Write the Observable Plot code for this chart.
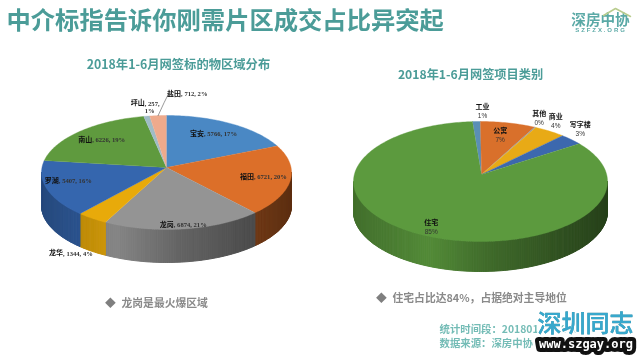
<!DOCTYPE html>
<html><head><meta charset="utf-8">
<style>html,body{margin:0;background:#fff}svg{display:block;filter:blur(.35px)}</style>
<script src="https://cdn.jsdelivr.net/npm/d3@7"></script>
<script src="https://cdn.jsdelivr.net/npm/@observablehq/plot@0.6"></script>
</head><body>
<script>
// --- data ---
const districts = ["宝安","福田","龙岗","龙华","罗湖","南山","坪山","盐田"];
const districtUnits = [5766,6721,6874,1344,5407,6226,257,712];
const districtPct = [17,20,21,4,16,19,1,2];
const districtColors = ["#4a88c4","#dc6f29","#949494","#e8aa0a","#3566ae","#5f9a3e","#9fbcc6","#eeaa8c"];
const types = ["工业","公寓","其他","商业","写字楼","住宅"];
const typePct = [1,7,0.2,4,3,85];
const typeLabels = ["1%","7%","0%","4%","3%","85%"];
const typeColors = ["#5a8fb5","#d9702b","#999999","#e8aa16","#3c68ae","#5c9a3e"];
const mainTitle = "中介标指告诉你刚需片区成交占比异突起";
const leftTitle = "2018年1-6月网签标的物区域分布";
const rightTitle = "2018年1-6月网签项目类别";
const leftNote = "龙岗是最火爆区域";
const rightNote = "住宅占比达84%，占据绝对主导地位";
const sourceLines = ["统计时间段：201801-201806","数据来源：深房中协"];

// --- layout ---
const CJK = "Noto Sans CJK SC";
const TEAL = "#4b9c98";
const leftPie = {cx:166,cy:172,ax:166,ay:167,rx:125,ry:57,depth:33,start:0};
const rightPie = {cx:480,cy:181,ax:481,ay:174,rx:127,ry:60,depth:30,start:-3.6};
// label placement: [fraction of radius, dx, dy]
const leftPlace = [[.75,-2,0],[.78,0,0],[.95,0,0],[1,-20,36],[.75,-9,-2],[.75,0,0],[1,-7,-12],[1,32,-21]];
const rightPlace = [[1,6,-10],[.7,0,-3],[1,4,-9],[1,6,-10],[1,9,-10],[.85,-6,0]];

const rim = (p,a,down=0)=>{const r=a*Math.PI/180;return [p.cx+p.rx*Math.sin(r),p.cy-p.ry*Math.cos(r)+down];};
const shade = d3.scaleLinear().domain([-1,-.4,.1,1]).range([.72,.9,.68,.42]);
const darken = (c,k)=>{const o=d3.rgb(c);return d3.rgb(o.r*k,o.g*k,o.b*k).formatHex();};

function buildPie(p,values,colors){
  const total=d3.sum(values); let a=p.start;
  const top=[],side=[],mids=[];
  values.forEach((v,i)=>{
    const a1=a+v/total*360; const id=i;
    top.push({id,x:p.ax,y:p.ay,c:colors[i]});
    for(let t=a;t<a1;t+=1){const [x,y]=rim(p,t);top.push({id,x,y,c:colors[i]});}
    const [xe,ye]=rim(p,a1);top.push({id,x:xe,y:ye,c:colors[i]});
    const mid=(a+a1)/2; mids.push(mid);
    const lo=Math.max(a,90),hi=Math.min(a1,270);
    for(let t=lo;t<hi;t+=1){
      const t2=Math.min(t+1,hi);
      const [x0,y0]=rim(p,t),[x1,y1]=rim(p,t2);
      const c=darken(colors[i],shade((x0-p.cx)/p.rx));
      const sid=i+"-"+t;
      side.push({id:sid,x:x0,y:y0,c},{id:sid,x:x1,y:y1,c},{id:sid,x:x1,y:y1+p.depth,c},{id:sid,x:x0,y:y0+p.depth,c},{id:sid,x:x0,y:y0,c});
    }
    a=a1;
  });
  return {top,side,mids};
}
const placeAt=(p,mid,[f,dx,dy])=>{const [x,y]=rim(p,mid);return [p.ax+f*(x-p.ax)+dx,p.ay+f*(y-p.ay)+dy];};

const L=buildPie(leftPie,districtUnits,districtColors);
const R=buildPie(rightPie,typePct,typeColors);

const leftLabels=districts.map((name,i)=>{
  const [x,y]=placeAt(leftPie,L.mids[i],leftPlace[i]);
  const rest=name==="坪山"?`, ${districtUnits[i]},\n${districtPct[i]}%`:`, ${districtUnits[i]}, ${districtPct[i]}%`;
  return {name,rest,x:name==="坪山"?x+5:x-9,y:y-4};
});
const rightLabels=types.map((name,i)=>{
  const [x,y]=placeAt(rightPie,R.mids[i],rightPlace[i]);
  return {name,pct:typeLabels[i],x,y};
});
const yt=L.mids[7]; const [lx0,ly0]=rim(leftPie,yt); const lead=[{x:lx0,y:ly0},{x:lx0+6,y:ly0-13},{x:lx0+10,y:ly0-21}];

const polygon=(d,w=.4)=>Plot.line(d,{x:"x",y:"y",z:"id",fill:"c",stroke:"c",strokeWidth:w,curve:"linear"});
const t=(arr,opt)=>Plot.text(arr,{text:"text",x:"x",y:"y",fontFamily:CJK,...opt});
const note=(s,x,y,size)=>[
  t([{text:"◆",x:x,y}],{fill:"#7f7f7f",fontSize:size,textAnchor:"middle"}),
  t([{text:s,x:x+11,y}],{fill:"#8a8a8a",fontSize:size,fontWeight:700,textAnchor:"start"})
];

const svg=Plot.plot({
  width:640,height:356,margin:0,
  style:{background:"#fff"},
  x:{domain:[0,640],range:[0,640],axis:null},
  y:{domain:[0,356],range:[0,356],axis:null},
  color:{type:"identity"},
  marks:[
    t([{text:mainTitle,x:6,y:21}],{fill:TEAL,fontSize:24.3,fontWeight:700,textAnchor:"start"}),
    t([{text:"深房中协",x:600,y:19.5}],{fill:"#5aa9a6",fontSize:14.6,fontWeight:700,textAnchor:"middle"}),
    Plot.line([{x:603,y:15},{x:615,y:8},{x:630,y:16}],{x:"x",y:"y",stroke:"#b9cc8e",strokeWidth:1.5}),
    t([{text:"SZFZX.ORG",x:600.5,y:30}],{fill:"#5aa9a6",fontSize:6,fontWeight:700,fontFamily:"Liberation Sans"}),
    t([{text:leftTitle,x:178,y:65}],{fill:TEAL,fontSize:12.3,fontWeight:700}),
    t([{text:rightTitle,x:470,y:75}],{fill:TEAL,fontSize:12.2,fontWeight:700}),
    polygon(L.side,1),polygon(L.top),
    polygon(R.side,1),polygon(R.top),
    Plot.line(lead,{x:"x",y:"y",stroke:"#555",strokeWidth:.6}),
    Plot.text(leftLabels,{x:"x",y:"y",text:"name",fontFamily:CJK,fontWeight:700,fontSize:7,fill:"#111",textAnchor:"end",lineAnchor:"top"}),
    Plot.text(leftLabels,{x:"x",y:"y",text:"rest",fontFamily:"Liberation Serif",fontWeight:700,fontSize:6.6,fill:"#333",textAnchor:"start",lineAnchor:"top",lineHeight:1.15}),
    Plot.text(rightLabels,{x:"x",y:"y",dy:-4.5,text:"name",fontFamily:CJK,fontWeight:700,fontSize:7,fill:"#111"}),
    Plot.text(rightLabels,{x:"x",y:"y",dy:4.5,text:"pct",fontFamily:"Liberation Sans",fontSize:6.5,fill:"#333"}),
    ...note(leftNote,110,303,10.8),
    ...note(rightNote,381,298,10.8),
    t([{text:sourceLines[0],x:439,y:329},{text:sourceLines[1],x:439,y:343}],{fill:"#74bcb6",fontSize:10.4,fontWeight:700,textAnchor:"start"}),
    // watermark
    t([{text:"深圳同志",x:585,y:324}],{fill:"#38a8cc",stroke:"#ffffff",strokeWidth:3.5,fontSize:24,fontWeight:500}),
    t([{text:"深圳同志",x:585,y:324}],{fill:"#38a8cc",stroke:"#2a7f94",strokeWidth:.3,fontSize:24,fontWeight:500}),
    Plot.text([{text:"www.szgay.org",x:585.5,y:344}],{text:"text",x:"x",y:"y",fontFamily:"DejaVu Sans Mono",fontWeight:700,fontSize:12,fill:"#fff",stroke:"#111",strokeWidth:8})
  ]
});
d3.select(svg).selectAll("text").filter(function(){return this.textContent==="SZFZX.ORG";}).style("letter-spacing","1.9px");
document.body.appendChild(svg);
</script>
</body></html>
